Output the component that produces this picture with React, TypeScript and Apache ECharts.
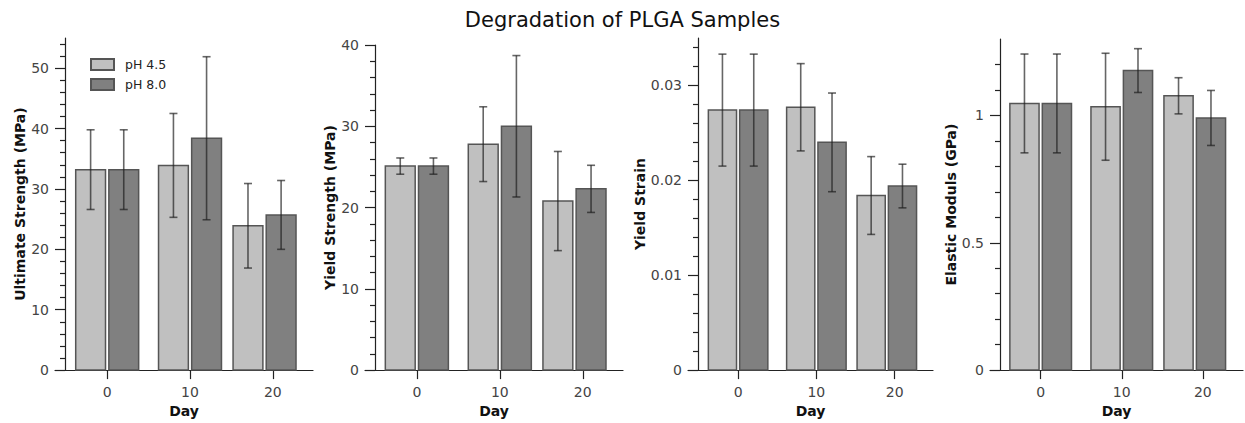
import React, { useEffect, useRef } from "react";
import * as echarts from "echarts";

// ---------- data ----------
const dayPositions = [0, 10, 19];
const dayTicks = [0, 10, 20];
const seriesNames = ["pH 4.5", "pH 8.0"];

const ultimate45 = [33.2, 33.9, 23.9];
const ultimate45Err = [6.6, 8.6, 7.0];
const ultimate80 = [33.2, 38.4, 25.7];
const ultimate80Err = [6.6, 13.5, 5.7];

const yieldStr45 = [25.1, 27.8, 20.8];
const yieldStr45Err = [1.0, 4.6, 6.1];
const yieldStr80 = [25.1, 30.0, 22.3];
const yieldStr80Err = [1.0, 8.7, 2.9];

const strain45 = [0.0274, 0.0277, 0.0184];
const strain45Err = [0.0059, 0.0046, 0.0041];
const strain80 = [0.0274, 0.024, 0.0194];
const strain80Err = [0.0059, 0.0052, 0.0023];

const modulus45 = [1.047, 1.034, 1.077];
const modulus45Err = [0.194, 0.21, 0.071];
const modulus80 = [1.047, 1.176, 0.99];
const modulus80Err = [0.194, 0.086, 0.108];

const ultimateMajor = [0, 10, 20, 30, 40, 50];
const ultimateMinor = [2, 4, 6, 8, 12, 14, 16, 18, 22, 24, 26, 28, 32, 34, 36, 38, 42, 44, 46, 48, 52, 54];
const yieldStrMajor = [0, 10, 20, 30, 40];
const yieldStrMinor = [2, 4, 6, 8, 12, 14, 16, 18, 22, 24, 26, 28, 32, 34, 36, 38];
const strainMajor = [0, 0.01, 0.02, 0.03];
const strainMinor = [0.002, 0.004, 0.006, 0.008, 0.012, 0.014, 0.016, 0.018, 0.022, 0.024, 0.026, 0.028, 0.032, 0.034];
const modulusMajor = [0, 0.5, 1];
const modulusMinor = [0.1, 0.2, 0.3, 0.4, 0.6, 0.7, 0.8, 0.9, 1.1, 1.2];

// ---------- styles / layout ----------
const FONT = "DejaVu Sans";
const LIGHT = "#c0c0c0";
const DARK = "#808080";
const EDGE = "#555555";
const ERR = "rgba(30,30,30,0.68)";
const AXIS = "#222222";
const BAR_OFFSET = 2;
const BAR_W = 3.6;

const panels = [
  { name: "Ultimate Strength (MPa)", a: ultimate45, ae: ultimate45Err, b: ultimate80, be: ultimate80Err, max: 55, major: ultimateMajor, minor: ultimateMinor,
    left: 55, width: 258, top: 38, xMin: -6.3, xMax: 24.85, nameGap: 38 },
  { name: "Yield Strength (MPa)", a: yieldStr45, ae: yieldStr45Err, b: yieldStr80, be: yieldStr80Err, max: 40, major: yieldStrMajor, minor: yieldStrMinor,
    left: 365, width: 258, top: 45, xMin: -6.25, xMax: 24.85, nameGap: 37 },
  { name: "Yield Strain", a: strain45, ae: strain45Err, b: strain80, be: strain80Err, max: 0.035, major: strainMajor, minor: strainMinor,
    left: 688, width: 245, top: 38, xMin: -6.4, xMax: 24.9, nameGap: 49 },
  { name: "Elastic Moduls (GPa)", a: modulus45, ae: modulus45Err, b: modulus80, be: modulus80Err, max: 1.3, major: modulusMajor, minor: modulusMinor,
    left: 990, width: 253, top: 39, xMin: -6.25, xMax: 24.95, nameGap: 41 },
];

function barRender(params: any, api: any) {
  const x = api.value(0);
  const y = api.value(1);
  const p0 = api.coord([x - BAR_W / 2, y]);
  const p1 = api.coord([x + BAR_W / 2, 0]);
  return {
    type: "rect",
    shape: { x: p0[0], y: p0[1], width: p1[0] - p0[0], height: p1[1] - p0[1] },
    style: { fill: api.visual("color"), stroke: EDGE, lineWidth: 1.5 },
  };
}

function errRender(params: any, api: any) {
  const x = api.value(0);
  const lo = api.coord([x, api.value(1)]);
  const hi = api.coord([x, api.value(2)]);
  const cap = 4;
  const style = { stroke: ERR, lineWidth: 1.6 };
  return {
    type: "group",
    children: [
      { type: "line", shape: { x1: lo[0], y1: lo[1], x2: hi[0], y2: hi[1] }, style },
      { type: "line", shape: { x1: lo[0] - cap, y1: lo[1], x2: lo[0] + cap, y2: lo[1] }, style },
      { type: "line", shape: { x1: hi[0] - cap, y1: hi[1], x2: hi[0] + cap, y2: hi[1] }, style },
    ],
  };
}

function buildOption() {
  const grid: any[] = [];
  const xAxis: any[] = [];
  const yAxis: any[] = [];
  const series: any[] = [];
  panels.forEach((p, i) => {
    grid.push({ left: p.left, width: p.width, top: p.top, bottom: 51 });
    xAxis.push({
      type: "value", gridIndex: i, min: p.xMin, max: p.xMax,
      name: "Day", nameLocation: "middle", nameGap: 31,
      nameTextStyle: { fontFamily: FONT, fontSize: 14, fontWeight: "bold", color: "#111" },
      axisLine: { show: true, onZero: false, lineStyle: { color: AXIS, width: 1.2 } },
      axisTick: { show: true, length: 9, customValues: dayTicks, lineStyle: { color: AXIS, width: 1.2 } },
      axisLabel: { show: true, customValues: dayTicks, margin: 15, fontFamily: FONT, fontSize: 14, color: "#444" },
      splitLine: { show: false },
    });
    yAxis.push({
      type: "value", gridIndex: i, position: "left", offset: -10, min: 0, max: p.max,
      name: p.name, nameLocation: "middle", nameGap: p.nameGap,
      nameTextStyle: { fontFamily: FONT, fontSize: 14, fontWeight: "bold", color: "#111" },
      axisLine: { show: true, onZero: false, lineStyle: { color: AXIS, width: 1.2 } },
      axisTick: { show: true, length: 10, customValues: p.major, lineStyle: { color: AXIS, width: 1.2 } },
      axisLabel: { show: true, customValues: p.major, margin: 16, fontFamily: FONT, fontSize: 14, color: "#444" },
      splitLine: { show: false },
    });
    yAxis.push({
      type: "value", gridIndex: i, position: "left", offset: -10, min: 0, max: p.max,
      axisLine: { show: false, onZero: false },
      axisTick: { show: true, length: 5, customValues: p.minor, lineStyle: { color: AXIS, width: 1.2 } },
      axisLabel: { show: false },
      splitLine: { show: false },
    });
    const yIdx = i * 2;
    const sets = [
      { name: seriesNames[0], vals: p.a, errs: p.ae, color: LIGHT, off: -BAR_OFFSET },
      { name: seriesNames[1], vals: p.b, errs: p.be, color: DARK, off: BAR_OFFSET },
    ];
    sets.forEach((s) => {
      series.push({
        type: "custom", name: s.name, xAxisIndex: i, yAxisIndex: yIdx,
        renderItem: barRender,
        itemStyle: { color: s.color, borderColor: EDGE, borderWidth: 1.5 },
        encode: { x: 0, y: 1 },
        data: dayPositions.map((d, k) => [d + s.off, s.vals[k]]),
        z: 2,
      });
    });
    sets.forEach((s) => {
      series.push({
        type: "custom", name: s.name + " err", xAxisIndex: i, yAxisIndex: yIdx,
        renderItem: errRender,
        encode: { x: 0, y: [1, 2] },
        data: dayPositions.map((d, k) => [d + s.off, s.vals[k] - s.errs[k], s.vals[k] + s.errs[k]]),
        z: 3,
        silent: true,
      });
    });
  });

  return {
    animation: false,
    backgroundColor: "#ffffff",
    title: {
      text: "Degradation of PLGA Samples", left: "center", top: 4,
      textStyle: { fontFamily: FONT, fontSize: 21, fontWeight: "normal", color: "#111" },
    },
    legend: {
      data: seriesNames, orient: "vertical", left: 90, top: 58, padding: 0,
      itemWidth: 23, itemHeight: 11, itemGap: 7, icon: "rect",
      textStyle: { fontFamily: FONT, fontSize: 12.5, color: "#222", padding: [0, 0, 0, 6] },
    },
    grid, xAxis, yAxis, series,
  };
}

export default function App() {
  const ref = useRef<HTMLDivElement>(null);
  useEffect(() => {
    if (!ref.current) return;
    const chart = echarts.init(ref.current, undefined, { renderer: "svg" });
    chart.setOption(buildOption() as any);
    return () => chart.dispose();
  }, []);
  return <div ref={ref} style={{ position: "fixed", left: 0, top: 0, width: 1245, height: 423, background: "#fff" }} />;
}
